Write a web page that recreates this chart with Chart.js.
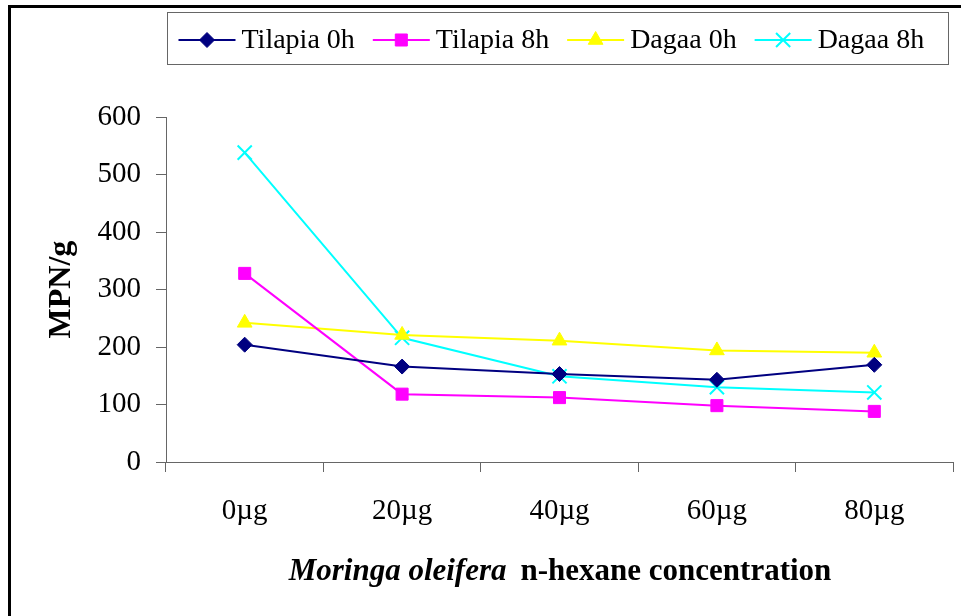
<!DOCTYPE html>
<html>
<head>
<meta charset="utf-8">
<script src="https://cdn.jsdelivr.net/npm/chart.js@4/dist/chart.umd.min.js"></script>
<style>
  html, body { margin: 0; padding: 0; background: #fff; }
  #chart { display: block; }
</style>
</head>
<body>
<canvas id="chart" width="961" height="616"></canvas>
<script>
const concentrations = ['0µg', '20µg', '40µg', '60µg', '80µg'];
const tilapia0h = [204, 166, 153, 143, 169];
const tilapia8h = [328, 118, 112, 98, 88];
const dagaa0h = [242, 221, 211, 194, 190];
const dagaa8h = [538, 216, 149, 130, 121];
const yTicks = [0, 100, 200, 300, 400, 500, 600];

const SERIF = '"Liberation Serif", "Times New Roman", serif';

const series = [
  { label: 'Tilapia 0h', data: tilapia0h, color: '#000080', style: 'rectRot', radius: 7.5 },
  { label: 'Tilapia 8h', data: tilapia8h, color: '#ff00ff', style: 'rect', radius: 8.5 },
  { label: 'Dagaa 0h', data: dagaa0h, color: '#ffff00', style: 'triangle', radius: 8.5 },
  { label: 'Dagaa 8h', data: dagaa8h, color: '#00ffff', style: 'crossRot', radius: 10 },
];

// frame, legend box and axis titles drawn on top of the chart
const decorations = {
  id: 'decorations',
  afterDraw(chart) {
    const { ctx, chartArea } = chart;
    ctx.save();

    // outer frame (only the left and top edges are visible)
    ctx.strokeStyle = '#000';
    ctx.lineWidth = 3;
    ctx.strokeRect(9.5, 6.5, 1200, 1200);

    // legend
    const box = { left: 167.5, top: 12.5, right: 948.5, bottom: 64.5 };
    ctx.fillStyle = '#fff';
    ctx.fillRect(box.left, box.top, box.right - box.left, box.bottom - box.top);
    ctx.strokeStyle = '#666';
    ctx.lineWidth = 1;
    ctx.strokeRect(box.left, box.top, box.right - box.left, box.bottom - box.top);

    ctx.font = '28px ' + SERIF;
    ctx.textBaseline = 'middle';
    ctx.textAlign = 'left';
    const cy = 40;
    let x = box.left + 11;
    chart.data.datasets.forEach(ds => {
      ctx.strokeStyle = ds.borderColor;
      ctx.lineWidth = 2;
      ctx.beginPath();
      ctx.moveTo(x, cy);
      ctx.lineTo(x + 57, cy);
      ctx.stroke();
      ctx.fillStyle = ds.pointBackgroundColor;
      ctx.lineWidth = ds.pointBorderWidth;
      Chart.helpers.drawPoint(ctx, {
        pointStyle: ds.pointStyle,
        radius: ds.pointRadius,
        borderWidth: ds.pointBorderWidth,
      }, x + 28.5, cy);
      ctx.fillStyle = '#000';
      ctx.fillText(ds.label, x + 63, cy + 1);
      x += 63 + ctx.measureText(ds.label).width + 18;
    });

    // y axis title
    ctx.save();
    ctx.translate(70, (chartArea.top + chartArea.bottom) / 2);
    ctx.rotate(-Math.PI / 2);
    ctx.font = 'bold 32px ' + SERIF;
    ctx.textAlign = 'center';
    ctx.textBaseline = 'alphabetic';
    ctx.fillStyle = '#000';
    ctx.fillText('MPN/g', 0, 0);
    ctx.restore();

    // x axis title: italic species name + bold remainder
    const partA = 'Moringa oleifera';
    const partB = 'n-hexane concentration';
    const fontA = 'italic bold 31px ' + SERIF;
    const fontB = 'bold 31px ' + SERIF;
    ctx.font = fontA;
    const wA = ctx.measureText(partA).width;
    ctx.font = fontB;
    const wB = ctx.measureText(partB).width;
    const gap = 14;
    let tx = 560 - (wA + gap + wB) / 2;
    const ty = 572;
    ctx.fillStyle = '#000';
    ctx.textAlign = 'left';
    ctx.font = fontA;
    ctx.fillText(partA, tx, ty);
    ctx.font = fontB;
    ctx.fillText(partB, tx + wA + gap, ty);

    ctx.restore();
  },
};

new Chart(document.getElementById('chart'), {
  type: 'line',
  data: {
    labels: concentrations,
    datasets: series.map(s => ({
      label: s.label,
      data: s.data,
      borderColor: s.color,
      backgroundColor: s.color,
      pointBackgroundColor: s.color,
      pointBorderColor: s.color,
      pointStyle: s.style,
      pointRadius: s.radius,
      pointBorderWidth: s.style === 'crossRot' ? 2 : 1,
      borderWidth: 2,
      tension: 0,
      fill: false,
      clip: false,
    })),
  },
  options: {
    responsive: false,
    animation: false,
    layout: { autoPadding: false, padding: { top: 117, right: 8, left: 0, bottom: 0 } },
    plugins: {
      legend: { display: false },
      tooltip: { enabled: false },
    },
    scales: {
      x: {
        offset: true,
        grid: { offset: true, drawOnChartArea: false, tickLength: 10, color: '#666', lineWidth: 1 },
        border: { color: '#666', width: 1 },
        ticks: { color: '#000', font: { family: SERIF, size: 29 }, padding: 22, maxRotation: 0 },
        afterFit: scale => {
          scale.height = 154;
          scale.paddingLeft = 0;
          scale.paddingRight = 0;
        },
      },
      y: {
        min: 0,
        max: 600,
        afterBuildTicks: scale => { scale.ticks = yTicks.map(v => ({ value: v })); },
        grid: { drawOnChartArea: false, tickLength: 10, color: '#666', lineWidth: 1 },
        border: { color: '#666', width: 1 },
        ticks: { color: '#000', font: { family: SERIF, size: 29 }, padding: 15 },
        afterFit: scale => {
          scale.width = 166;
          scale.paddingTop = 0;
          scale.paddingBottom = 0;
        },
      },
    },
  },
  plugins: [decorations],
});
</script>
</body>
</html>
